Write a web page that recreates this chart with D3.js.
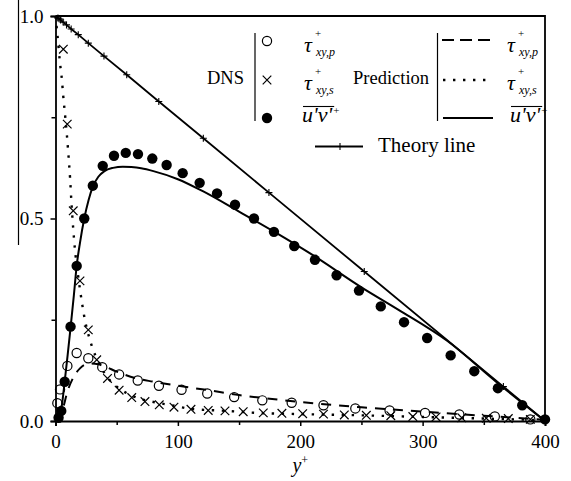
<!DOCTYPE html>
<html>
<head>
<meta charset="utf-8">
<script src="https://cdn.jsdelivr.net/npm/d3@7"></script>
<style>
  body { margin: 0; background: #fff; }
  svg { display: block; }
  text { font-family: "Liberation Serif", "Times New Roman", serif; fill: #000; }
</style>
</head>
<body>
<svg id="chart" width="571" height="481"></svg>
<script>
// ---- DNS samples ----
const dnsUvX = [2.5, 4.7, 7.5, 12.3, 17.3, 23.5, 30.5, 38.6, 47.8, 57.4, 67.4, 79.1, 90.8, 103.9, 117.8, 132.0, 146.7, 162.2, 178.5, 195.1, 212.0, 229.7, 248.0, 265.8, 284.8, 303.7, 322.9, 342.2, 361.5, 381.4, 400.0];
const dnsUvY = [0.008, 0.025, 0.097, 0.233, 0.383, 0.500, 0.581, 0.630, 0.655, 0.662, 0.659, 0.648, 0.632, 0.612, 0.588, 0.562, 0.534, 0.500, 0.467, 0.432, 0.398, 0.360, 0.322, 0.283, 0.244, 0.205, 0.162, 0.123, 0.081, 0.039, 0.004];

const dnsTpX = [1.5, 3.7, 9.7, 17.3, 26.8, 38.2, 52.0, 67.2, 84.5, 103.0, 124.0, 146.0, 169.0, 193.0, 219.0, 245.0, 273.0, 302.0, 330.0, 359.0, 388.0];
const dnsTpY = [0.044, 0.078, 0.136, 0.168, 0.155, 0.133, 0.115, 0.100, 0.087, 0.077, 0.068, 0.059, 0.051, 0.045, 0.039, 0.031, 0.026, 0.020, 0.016, 0.011, 0.004];

const dnsTsX = [6.4, 9.6, 14.5, 20.0, 26.8, 33.7, 42.5, 52.0, 62.3, 73.1, 84.8, 96.8, 110.7, 124.8, 138.5, 153.4, 169.8, 185.0, 202.0, 219.0, 236.0, 254.0, 274.0, 292.0, 311.0, 332.0, 352.0, 370.0, 388.0];
const dnsTsY = [0.918, 0.733, 0.519, 0.346, 0.225, 0.151, 0.105, 0.076, 0.058, 0.048, 0.040, 0.034, 0.029, 0.026, 0.025, 0.023, 0.020, 0.019, 0.018, 0.017, 0.015, 0.014, 0.013, 0.011, 0.010, 0.008, 0.007, 0.006, 0.004];

// ---- model predictions ----
const predUvX = [0, 3, 5, 7.5, 10, 12.4, 15, 17.3, 20, 23.5, 27, 30.4, 35, 40, 47, 55, 62, 70, 80, 100, 120, 150, 180, 210, 250, 280, 320, 360, 400];
const predUvY = [0, 0.010, 0.035, 0.097, 0.165, 0.233, 0.310, 0.383, 0.440, 0.500, 0.545, 0.578, 0.603, 0.617, 0.625, 0.628, 0.627, 0.624, 0.617, 0.597, 0.568, 0.517, 0.465, 0.410, 0.330, 0.275, 0.198, 0.097, 0];

const predTpX = [0, 5, 10, 15, 20, 25, 30, 35, 40, 50, 65, 80, 100, 125, 150, 175, 200, 250, 300, 350, 400];
const predTpY = [0, 0.020, 0.075, 0.110, 0.130, 0.140, 0.142, 0.140, 0.135, 0.122, 0.106, 0.097, 0.087, 0.076, 0.064, 0.055, 0.047, 0.034, 0.023, 0.013, 0.003];

const predTsX = [0, 2, 3.7, 5, 6.4, 8, 9.2, 10.5, 11.9, 13.2, 14.6, 16, 18, 20, 22, 24, 27, 30, 35, 40, 50, 60, 70, 80, 100, 110, 140, 165, 200, 250, 300, 350, 400];
const predTsY = [1, 0.94, 0.883, 0.85, 0.80, 0.75, 0.71, 0.66, 0.60, 0.53, 0.47, 0.42, 0.37, 0.325, 0.285, 0.25, 0.212, 0.182, 0.146, 0.118, 0.085, 0.066, 0.054, 0.047, 0.036, 0.030, 0.025, 0.020, 0.017, 0.014, 0.010, 0.006, 0.002];

// ---- total shear stress (theory) ----
const theoryX = [0, 2.0, 2.9, 4.2, 6.2, 9.0, 12.8, 18.6, 26.8, 39.6, 58.2, 84.4, 120.8, 174.4, 252.3, 366.0, 400];
const theoryY = [1.000, 0.995, 0.993, 0.990, 0.985, 0.978, 0.968, 0.954, 0.933, 0.901, 0.855, 0.789, 0.698, 0.564, 0.369, 0.085, 0.000];

// ---- axis ticks ----
const xMajor = [0, 100, 200, 300, 400];
const xMinor = [50, 150, 250, 350];
const yMajor = [0, 0.5, 1.0];
const yMinor = [0.25, 0.75];

const zip = (xs, ys) => xs.map((v, i) => [v, ys[i]]);

const svg = d3.select("#chart");
const x = d3.scaleLinear().domain([0, 400]).range([55.5, 545]);
const y = d3.scaleLinear().domain([0, 1]).range([421, 16]);

// stray rule at the far left of the figure
svg.append("line").attr("x1", 18.5).attr("x2", 18.5).attr("y1", 0).attr("y2", 245)
  .attr("stroke", "#000").attr("stroke-width", 1.2);

// frame (top and right)
svg.append("path")
  .attr("d", `M${x(0)},${y(1)}H${x(400)}V${y(0)}`)
  .attr("fill", "none").attr("stroke", "#000").attr("stroke-width", 1.8);

// axes
function styleAxis(g) {
  g.selectAll("path.domain").attr("stroke-width", 1.8);
  g.selectAll(".tick line").attr("stroke-width", 1.5);
  g.selectAll(".tick text").style("font-family", '"Liberation Serif","Times New Roman",serif')
    .style("font-size", "19px").attr("fill", "#000");
}
const gx = svg.append("g").attr("transform", `translate(0,${y(0)})`)
  .call(d3.axisBottom(x).tickValues(xMajor).tickSize(5).tickPadding(9).tickFormat(d3.format("d")));
styleAxis(gx);
const gxm = svg.append("g").attr("transform", `translate(0,${y(0)})`)
  .call(d3.axisBottom(x).tickValues(xMinor).tickSize(4).tickFormat(""));
gxm.select("path.domain").remove();
styleAxis(gxm);

const gy = svg.append("g").attr("transform", `translate(${x(0)},0)`)
  .call(d3.axisLeft(y).tickValues(yMajor).tickSize(5).tickPadding(7).tickFormat(d3.format(".1f")));
styleAxis(gy);
const gym = svg.append("g").attr("transform", `translate(${x(0)},0)`)
  .call(d3.axisLeft(y).tickValues(yMinor).tickSize(4).tickFormat(""));
gym.select("path.domain").remove();
styleAxis(gym);

// x-axis title y+
const xt = svg.append("text").attr("x", x(200)).attr("y", 472).attr("text-anchor", "middle")
  .style("font-size", "20px");
xt.append("tspan").text("y").style("font-style", "italic");
xt.append("tspan").text("+").attr("dy", -8).style("font-size", "12px");

// ---- curves ----
const line = d3.line().x(d => x(d[0])).y(d => y(d[1])).curve(d3.curveMonotoneX);

// theory line with + markers
svg.append("path").datum(zip(theoryX, theoryY)).attr("d", d3.line().x(d => x(d[0])).y(d => y(d[1])))
  .attr("fill", "none").attr("stroke", "#000").attr("stroke-width", 1.8);
const plusPath = (cx, cy, s) => `M${cx - s},${cy}H${cx + s}M${cx},${cy - s}V${cy + s}`;
svg.append("g").selectAll("path").data(zip(theoryX, theoryY).slice(1, -1)).join("path")
  .attr("d", d => plusPath(x(d[0]), y(d[1]), 3.5))
  .attr("stroke", "#000").attr("stroke-width", 1.1).attr("fill", "none");

svg.append("path").datum(zip(predUvX, predUvY)).attr("d", line)
  .attr("fill", "none").attr("stroke", "#000").attr("stroke-width", 2);
svg.append("path").datum(zip(predTpX, predTpY)).attr("d", line)
  .attr("fill", "none").attr("stroke", "#000").attr("stroke-width", 2).attr("stroke-dasharray", "10,8");
svg.append("path").datum(zip(predTsX, predTsY)).attr("d", line)
  .attr("fill", "none").attr("stroke", "#000").attr("stroke-width", 2.4).attr("stroke-dasharray", "2.4,7.6");

// ---- DNS markers ----
const crossPath = (cx, cy, s) => `M${cx - s},${cy - s}L${cx + s},${cy + s}M${cx - s},${cy + s}L${cx + s},${cy - s}`;

svg.append("g").selectAll("circle").data(zip(dnsTpX, dnsTpY)).join("circle")
  .attr("cx", d => x(d[0])).attr("cy", d => y(d[1])).attr("r", 4.6)
  .attr("fill", "none").attr("stroke", "#000").attr("stroke-width", 1.2);
svg.append("g").selectAll("path").data(zip(dnsTsX, dnsTsY)).join("path")
  .attr("d", d => crossPath(x(d[0]), y(d[1]), 4.3))
  .attr("stroke", "#000").attr("stroke-width", 1.2).attr("fill", "none");
svg.append("g").selectAll("circle").data(zip(dnsUvX, dnsUvY)).join("circle")
  .attr("cx", d => x(d[0])).attr("cy", d => y(d[1])).attr("r", 5.2)
  .attr("fill", "#000");

// ---- legend ----
const lg = svg.append("g");
function tau(xp, base, sub) {
  lg.append("text").attr("x", xp).attr("y", base).text("τ")
    .style("font-size", "22px").style("font-style", "italic");
  lg.append("text").attr("x", xp + 11).attr("y", base - 15).text("+")
    .style("font-size", "11px");
  lg.append("text").attr("x", xp + 12).attr("y", base + 4).text(sub)
    .style("font-size", "12px").style("font-style", "italic");
}
function uv(xp, base) {
  const t = lg.append("text").attr("x", xp).attr("y", base).text("u'v'")
    .style("font-size", "22px").style("font-style", "italic");
  const w = t.node().getComputedTextLength();
  lg.append("line").attr("x1", xp + 1).attr("x2", xp + w + 2).attr("y1", base - 15.5).attr("y2", base - 15.5)
    .attr("stroke", "#000").attr("stroke-width", 1.1);
  lg.append("text").attr("x", xp + w + 1).attr("y", base - 8).text("+").style("font-size", "11px");
}

lg.append("text").attr("x", 207).attr("y", 84).text("DNS").style("font-size", "18.5px");
lg.append("line").attr("x1", 255).attr("x2", 255).attr("y1", 33).attr("y2", 121)
  .attr("stroke", "#000").attr("stroke-width", 1.2);
lg.append("circle").attr("cx", 267).attr("cy", 41).attr("r", 4.6)
  .attr("fill", "none").attr("stroke", "#000").attr("stroke-width", 1.2);
lg.append("path").attr("d", crossPath(267, 80, 4.3)).attr("stroke", "#000").attr("stroke-width", 1.2);
lg.append("circle").attr("cx", 267).attr("cy", 118).attr("r", 5.2).attr("fill", "#000");
tau(304, 52, "xy,p");
tau(304, 90, "xy,s");
uv(302, 122);

lg.append("text").attr("x", 353).attr("y", 84).text("Prediction").style("font-size", "18.5px");
lg.append("line").attr("x1", 437.5).attr("x2", 437.5).attr("y1", 33).attr("y2", 121)
  .attr("stroke", "#000").attr("stroke-width", 1.2);
lg.append("line").attr("x1", 442).attr("x2", 491).attr("y1", 40).attr("y2", 40)
  .attr("stroke", "#000").attr("stroke-width", 2).attr("stroke-dasharray", "12,6");
lg.append("line").attr("x1", 443).attr("x2", 491).attr("y1", 80).attr("y2", 80)
  .attr("stroke", "#000").attr("stroke-width", 2.4).attr("stroke-dasharray", "2.4,7.6");
lg.append("line").attr("x1", 443).attr("x2", 493).attr("y1", 118).attr("y2", 118)
  .attr("stroke", "#000").attr("stroke-width", 2);
tau(507, 52, "xy,p");
tau(507, 90, "xy,s");
uv(510, 122);

lg.append("line").attr("x1", 315).attr("x2", 363).attr("y1", 146.5).attr("y2", 146.5)
  .attr("stroke", "#000").attr("stroke-width", 1.8);
lg.append("line").attr("x1", 340).attr("x2", 340).attr("y1", 143).attr("y2", 150)
  .attr("stroke", "#000").attr("stroke-width", 1.1);
lg.append("text").attr("x", 378).attr("y", 151.5).text("Theory line").style("font-size", "21px");
</script>
</body>
</html>
